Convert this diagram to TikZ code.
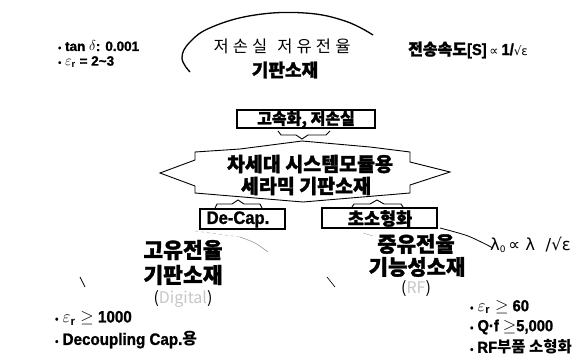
\documentclass[tikz,border=0pt]{standalone}
\usepackage{fontspec}
\setmainfont{Liberation Sans}
\newfontfamily\kr{Noto Sans CJK KR}
\newfontfamily\krb{Noto Sans CJK KR}[BoldFeatures={FakeBold=1.5}]
\newfontfamily\krsp{Noto Sans CJK KR}[LetterSpace=25]
\newfontfamily\lb{Liberation Sans}[BoldFeatures={FakeBold=1.2}, FakeStretch=0.92]
\newfontfamily\lbw{Liberation Sans}[BoldFeatures={FakeBold=1.2}]
\newfontfamily\dv{DejaVu Sans}
\begin{document}
\begin{tikzpicture}[x=1pt,y=-1pt,
  txt/.style={inner sep=0pt},
  lbl/.style={inner sep=0pt,anchor=west},
  boxx/.style={draw,line width=1.1pt,inner sep=0pt},
  brk/.style={line width=0.9pt},
  faint/.style={gray!60,line width=0.5pt}]
\useasboundingbox (0,0) rectangle (584,359);

% top-left bullets
\node[lbl,font=\lbw\bfseries\fontsize{13.5}{13}\selectfont] (b1) at (58,46) {{\fontsize{9}{9}\selectfont\textbullet}\ tan $\delta$: 0.001};
\node[lbl,font=\lbw\bfseries\fontsize{13.5}{13}\selectfont] (b2) at (58,62) {{\fontsize{9}{9}\selectfont\textbullet}\ $\varepsilon_{\mathbf r}$ = 2\textasciitilde3};

% top arc and title
\draw[line width=1.3pt] plot[smooth,tension=0.7] coordinates {(190,72) (182,58) (190,42) (212,27) (255,15) (305,13) (345,21) (373,35)};
\node[txt,font=\krsp\fontsize{16.5}{18}\selectfont] (t1) at (282,46) {저손실\hspace{10pt}저유전율};
\node[txt,font=\krb\bfseries\fontsize{18}{18}\selectfont] (t2) at (285,70) {기판소재};

% top-right
\node[lbl] (sp) at (408,50) {{\krb\bfseries\fontsize{16}{16}\selectfont 전송속도}{\lb\bfseries\fontsize{16}{16}\selectfont[S]} {\dv\fontsize{13}{13}\selectfont ∝} {\lb\bfseries\fontsize{16}{16}\selectfont 1/}{\dv\fontsize{12}{12}\selectfont √ε}};

% box 1
\node[boxx,minimum width=138pt,minimum height=18pt] (bx1) at (306,119) {};
\node[txt,font=\krb\bfseries\fontsize{16}{16}\selectfont] (bx1t) at (306,119.5) {고속화, 저손실};
\draw[brk] (278,131)--(281,135)--(296,135)--(302,139)--(308,135)--(326,135)--(330,131);

% hexagon
\draw[line width=0.9pt] (160,173)--(195,160)--(195,152)--(240,149)--(302,141)--(370,147)--(410,152)--(410,162)--(450,172)--(410,185)--(410,193)--(303,202)--(195,193)--(195,186)--cycle;
\node[txt,font=\krb\bfseries\fontsize{19.5}{20}\selectfont] (h1) at (310,164) {차세대 시스템모듈용};
\node[txt,font=\krb\bfseries\fontsize{19.5}{20}\selectfont] (h2) at (306,186) {세라믹 기판소재};

% De-Cap
\draw[brk] (215,208)--(217,204)--(232,204)--(238,200)--(244,204)--(260,204)--(262,208);
\node[boxx,minimum width=85pt,minimum height=20pt] (dc) at (242.5,219) {};
\node[txt,font=\lb\bfseries\fontsize{18}{18}\selectfont] (dct) at (238,219.5) {De-Cap.};

% micro
\draw[brk] (352,207)--(354,204)--(370,204)--(377,200)--(384,204)--(401,204)--(403,207);
\node[boxx,minimum width=115pt,minimum height=20pt] (mc) at (379.5,218) {};
\node[txt,font=\krb\bfseries\fontsize{17.5}{18}\selectfont] (mct) at (380,218.5) {초소형화};

% lower-left group
\draw[faint,dashed] (195,231) -- (240,237);
\draw[gray!80,line width=0.6pt] plot[smooth] coordinates {(240,237) (255,243) (268,252)};
\draw[line width=0.7pt] (80,277)--(85,287);
\node[txt,font=\krb\bfseries\fontsize{21.5}{22}\selectfont] (l1) at (183,250) {고유전율};
\node[txt,font=\krb\bfseries\fontsize{21.5}{22}\selectfont] (l2) at (183,275) {기판소재};
\node[txt,font=\kr\fontsize{16}{16}\selectfont] (l3) at (183,299) {({\color{gray!45}Digital})};

\node[lbl,font=\lb\bfseries\fontsize{16.5}{16}\selectfont] (lb1) at (55,318) {{\fontsize{10}{10}\selectfont\textbullet}\ $\varepsilon_{\mathbf r}\geq$ 1000};
\node[lbl,font=\lb\bfseries\fontsize{16.5}{16}\selectfont] (lb2) at (55,340) {{\fontsize{10}{10}\selectfont\textbullet}\ Decoupling Cap.{\kr\fontsize{16}{16}\selectfont 용}};

% lower-right group
\draw[faint] (363,233)--(373,236);
\draw[line width=0.8pt] plot[smooth] coordinates {(440,228) (468,236) (493,248)};
\draw[line width=0.7pt] (327,277)--(335,287);
\node[txt,font=\krb\bfseries\fontsize{21}{22}\selectfont] (r1) at (416,244) {중유전율};
\node[txt,font=\krb\bfseries\fontsize{21}{22}\selectfont] (r2) at (417,267) {기능성소재};
\node[txt,font=\kr\fontsize{16}{16}\selectfont] (r3) at (416,289) {({\color{gray!45}RF})};

\node[lbl,font=\dv\fontsize{16.5}{16}\selectfont] (lam) at (490,245) {λ\raisebox{-2pt}{\fontsize{9}{9}\selectfont 0}\,∝ λ\ \ /√ε};

\node[lbl,font=\lb\bfseries\fontsize{16}{16}\selectfont] (rb1) at (470,307) {{\fontsize{10}{10}\selectfont\textbullet}\ $\varepsilon_{\mathbf r}\geq$ 60};
\node[lbl,font=\lb\bfseries\fontsize{16}{16}\selectfont] (rb2) at (470,327) {{\fontsize{10}{10}\selectfont\textbullet}\ Q·f $\geq$5,000};
\node[lbl,font=\lb\bfseries\fontsize{16}{16}\selectfont] (rb3) at (470,347) {{\fontsize{10}{10}\selectfont\textbullet}\ RF{\kr\fontsize{15.5}{16}\selectfont 부품 소형화}};
\end{tikzpicture}
\end{document}
